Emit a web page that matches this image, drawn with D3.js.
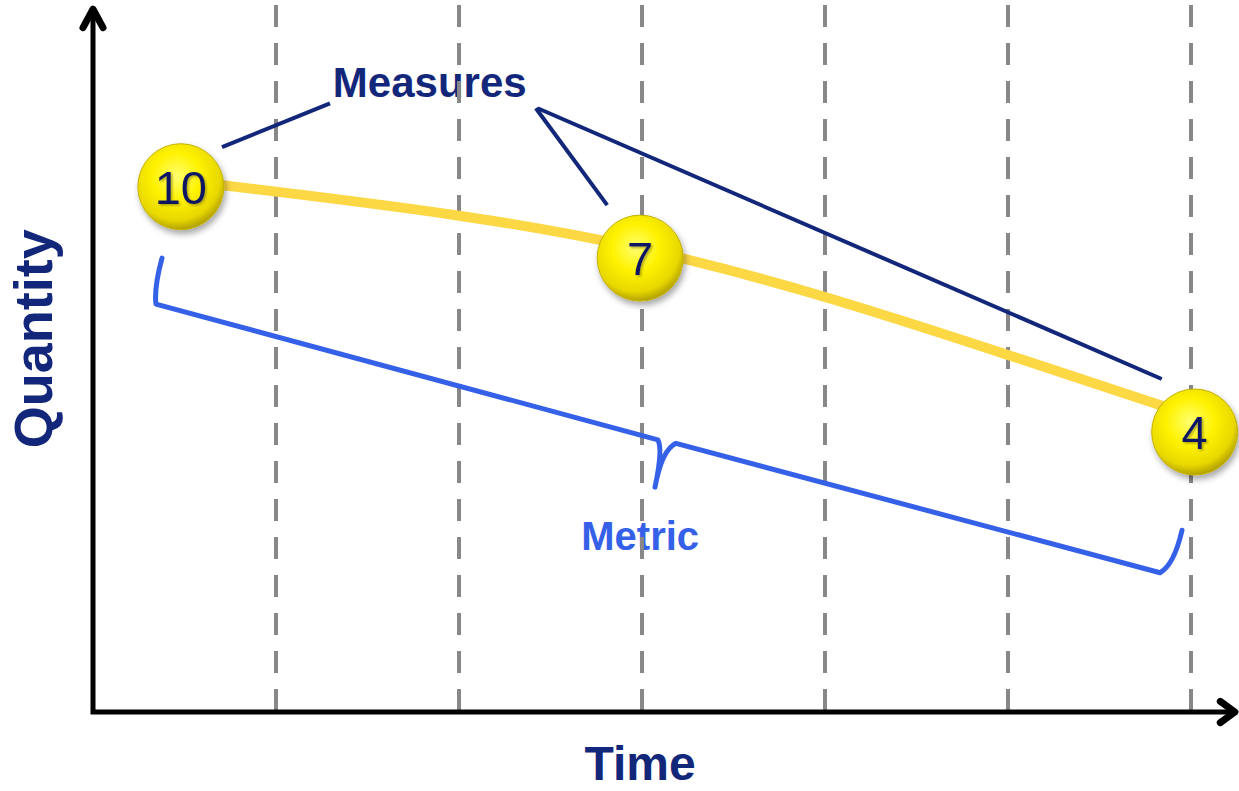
<!DOCTYPE html>
<html>
<head>
<meta charset="utf-8">
<script src="https://cdn.jsdelivr.net/npm/d3@7"></script>
<style>
  body { margin: 0; background: #fff; }
  svg { display: block; font-family: "Liberation Sans", Arial, sans-serif; }
</style>
</head>
<body>
<svg id="chart"></svg>
<script>
// measures (the yellow balls)
const measureTimes = [0.48, 2.99, 6.02]
const measureLevels = [74.3, 64.2, 39.6]
const measureLabels = ["10", "7", "4"]

// trend line drawn through the measures
const trendTimes = [0.48, 1, 2, 3, 4, 5, 6.02]
const trendLevels = [75.2, 73.6, 70.2, 65.5, 58.7, 50.5, 41.8]

// dashed time ticks
const gridTimes = [1, 2, 3, 4, 5, 6]

// leader lines from the "Measures" label  [t1, l1, t2, l2]
const leaderLines = [
    [0.705, 79.9, 1.295, 86.1],
    [2.42, 85.4, 2.81, 71.7],
    [2.43, 85.4, 5.84, 47.1]
]

// brace under the measures (points in time / level units)
const braceLeft = [[0.377, 64.2], [0.333, 60.0], [0.344, 57.7]]
const braceMidIn = [3.087, 38.5]
const braceTip = [[3.115, 37.1], [3.071, 31.8]]
const braceMidOut = [[3.109, 37.1], [3.186, 38.0]]
const braceRight = [[5.831, 19.7], [5.907, 20.8], [5.951, 25.7]]

const width = 1239, height = 791
const navy = "#13277a"
const blue = "#3560e8"

const svg = d3.select("#chart").attr("width", width).attr("height", height)

const x = d3.scaleLinear().domain([0, 6]).range([93, 1191])
const y = d3.scaleLinear().domain([0, 100]).range([712, 5])

const defs = svg.append("defs")
const grad = defs.append("radialGradient").attr("id", "ball")
    .attr("cx", "45%").attr("cy", "38%").attr("r", "62%")
grad.append("stop").attr("offset", "0%").attr("stop-color", "#ffff70")
grad.append("stop").attr("offset", "45%").attr("stop-color", "#fff200")
grad.append("stop").attr("offset", "82%").attr("stop-color", "#e8d800")
grad.append("stop").attr("offset", "100%").attr("stop-color", "#b3a200")

const shadow = defs.append("filter").attr("id", "shadow")
    .attr("x", "-30%").attr("y", "-30%").attr("width", "170%").attr("height", "170%")
shadow.append("feDropShadow").attr("dx", 2).attr("dy", 4).attr("stdDeviation", 3)
    .attr("flood-color", "#000").attr("flood-opacity", 0.35)

const txtShadow = defs.append("filter").attr("id", "txtShadow")
txtShadow.append("feDropShadow").attr("dx", 1.5).attr("dy", 1.5).attr("stdDeviation", 0.8)
    .attr("flood-color", "#7a7000").attr("flood-opacity", 0.6)

// labels (under the grid lines like in the picture)
svg.append("text")
    .attr("x", x(1.84)).attr("y", y(87.0))
    .attr("text-anchor", "middle")
    .style("font-size", "42px").style("font-weight", "bold")
    .style("fill", navy)
    .text("Measures")

svg.append("text")
    .attr("x", x(2.99)).attr("y", y(22.9))
    .attr("text-anchor", "middle")
    .style("font-size", "40px").style("font-weight", "bold")
    .style("fill", blue)
    .text("Metric")

// grid
svg.append("g").selectAll("line")
    .data(gridTimes)
    .join("line")
    .attr("x1", d => x(d)).attr("x2", d => x(d))
    .attr("y1", y(100)).attr("y2", y(0))
    .style("stroke", "#888")
    .style("stroke-width", 4)
    .style("stroke-dasharray", "22,16")

// axes
const axes = svg.append("g")
    .style("stroke", "#000").style("stroke-width", 5)
    .style("fill", "none").style("stroke-linejoin", "round").style("stroke-linecap", "round")
axes.append("path")
    .attr("d", `M${x(0)},${y(98.8)} L${x(0)},${y(0)} L${x(6.25)},${y(0)}`)
    .style("stroke-linecap", "butt").style("stroke-linejoin", "miter")
axes.append("polyline")
    .attr("points", `${x(0) - 10},${y(96.8)} ${x(0)},${y(99.4)} ${x(0) + 10},${y(96.8)}`)
    .style("stroke-width", 7)
axes.append("polyline")
    .attr("points", `${x(6.16)},${y(1.5)} ${x(6.24)},${y(0)} ${x(6.16)},${y(-1.5)}`)
    .style("stroke-width", 7)

// leader lines
svg.append("g").selectAll("line")
    .data(leaderLines)
    .join("line")
    .attr("x1", d => x(d[0])).attr("y1", d => y(d[1]))
    .attr("x2", d => x(d[2])).attr("y2", d => y(d[3]))
    .style("stroke", navy).style("stroke-width", 4)

// brace
const p = d3.path()
const P = d => [x(d[0]), y(d[1])]
p.moveTo(...P(braceLeft[0]))
p.quadraticCurveTo(...P(braceLeft[1]), ...P(braceLeft[2]))
p.lineTo(...P(braceMidIn))
p.quadraticCurveTo(...P(braceTip[0]), ...P(braceTip[1]))
p.quadraticCurveTo(...P(braceMidOut[0]), ...P(braceMidOut[1]))
p.lineTo(...P(braceRight[0]))
p.quadraticCurveTo(...P(braceRight[1]), ...P(braceRight[2]))
svg.append("path")
    .attr("d", p.toString())
    .style("fill", "none").style("stroke", blue).style("stroke-width", 5)
    .style("stroke-linecap", "round").style("stroke-linejoin", "round")

// trend line
const trend = d3.zip(trendTimes, trendLevels)
svg.append("path")
    .datum(trend)
    .attr("d", d3.line().x(d => x(d[0])).y(d => y(d[1])).curve(d3.curveNatural))
    .style("fill", "none").style("stroke", "#fcd845").style("stroke-width", 10)

// measure balls
const balls = svg.append("g").selectAll("g")
    .data(d3.zip(measureTimes, measureLevels, measureLabels))
    .join("g")
    .attr("transform", d => `translate(${x(d[0])},${y(d[1])})`)

balls.append("circle")
    .attr("r", 43)
    .style("fill", "url(#ball)")
    .style("stroke", "#c4b200").style("stroke-width", 1)
    .attr("filter", "url(#shadow)")

balls.append("text")
    .attr("y", 17)
    .attr("text-anchor", "middle")
    .style("font-size", "47px")
    .style("fill", "#0b1464")
    .attr("filter", "url(#txtShadow)")
    .text(d => d[2])

// axis titles
svg.append("text")
    .attr("transform", `translate(${x(0) - 41},${y(52.8)}) rotate(-90)`)
    .attr("text-anchor", "middle")
    .style("font-size", "54px").style("font-weight", "bold")
    .style("fill", navy)
    .text("Quantity")

svg.append("text")
    .attr("x", x(2.99)).attr("y", 780)
    .attr("text-anchor", "middle")
    .style("font-size", "48px").style("font-weight", "bold")
    .style("fill", navy)
    .text("Time")
</script>
</body>
</html>
